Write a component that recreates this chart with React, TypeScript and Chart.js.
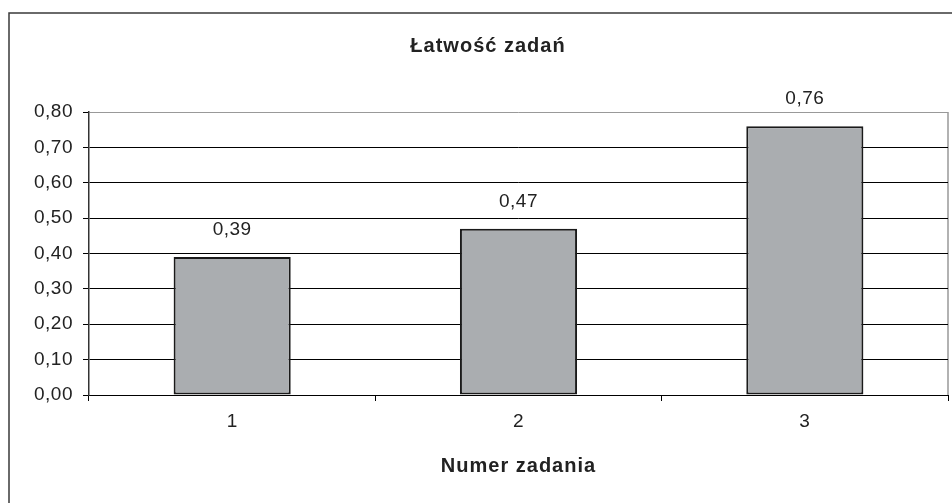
import React, { useEffect, useRef } from "react";
import { Chart, registerables } from "chart.js";

Chart.register(...registerables);

const chartTitle = "Łatwość zadań";
const xAxisTitle = "Numer zadania";
const categories = ["1", "2", "3"];
const easiness = [0.39, 0.47, 0.76];
const yMin = 0;
const yMax = 0.8;
const yStep = 0.1;

const fmt = (v: number) => v.toFixed(2).replace(".", ",");
const FONT = "'Liberation Sans', Arial, sans-serif";

const decorPlugin = {
  id: "decor",
  beforeDraw(chart: any) {
    const ctx = chart.ctx;
    ctx.letterSpacing = "0.5px";
    const { top, right, bottom } = chart.chartArea;
    ctx.save();
    ctx.fillStyle = "#ffffff";
    ctx.fillRect(0, 0, chart.width, chart.height);
    ctx.strokeStyle = "#999999";
    ctx.lineWidth = 1.5;
    ctx.beginPath();
    ctx.moveTo(right, top);
    ctx.lineTo(right, bottom);
    ctx.stroke();
    ctx.restore();
  },
  afterDatasetsDraw(chart: any) {
    const ctx = chart.ctx;
    const meta = chart.getDatasetMeta(0);
    ctx.save();
    ctx.letterSpacing = "0.5px";
    ctx.font = `19px ${FONT}`;
    ctx.fillStyle = "#222";
    ctx.textAlign = "center";
    ctx.textBaseline = "middle";
    meta.data.forEach((bar: any, i: number) => {
      ctx.fillText(fmt(easiness[i]), bar.x, bar.y - 27);
    });
    ctx.restore();
  },
  afterDraw(chart: any) {
    const ctx = chart.ctx;
    const { left, right } = chart.chartArea;
    ctx.save();
    ctx.strokeStyle = "#3a3a3a";
    ctx.lineWidth = 1.5;
    ctx.beginPath();
    ctx.moveTo(9, chart.height);
    ctx.lineTo(9, 13);
    ctx.lineTo(chart.width, 13);
    ctx.stroke();
    ctx.letterSpacing = "1px";
    ctx.font = `bold 20px ${FONT}`;
    ctx.fillStyle = "#222";
    ctx.textAlign = "center";
    ctx.textBaseline = "middle";
    ctx.fillText(chartTitle, 488, 46);
    ctx.fillText(xAxisTitle, (left + right) / 2, 466);
    ctx.restore();
  },
};

export default function App() {
  const ref = useRef<HTMLCanvasElement | null>(null);
  useEffect(() => {
    if (!ref.current) return;
    const chart = new Chart(ref.current, {
      type: "bar",
      data: {
        labels: categories,
        datasets: [
          {
            data: easiness,
            backgroundColor: "#aaadb0",
            borderColor: "#1a1a1a",
            borderWidth: 2,
            borderSkipped: false,
            categoryPercentage: 1,
            barPercentage: 0.409,
          },
        ],
      },
      options: {
        animation: false,
        responsive: false,
        events: [],
        layout: { padding: { top: 112, right: 4, left: 0, bottom: 0 } },
        plugins: {
          legend: { display: false },
          title: { display: false },
          tooltip: { enabled: false },
        },
        scales: {
          x: {
            offset: true,
            grid: {
              display: true,
              drawOnChartArea: false,
              drawTicks: true,
              tickLength: 6,
              color: "#000",
              tickColor: "#000",
              offset: true,
            },
            border: { display: true, color: "#000", width: 1 },
            ticks: {
              color: "#222",
              font: { family: FONT, size: 19 },
              padding: 9,
            },
            afterFit: (s: any) => {
              s.height = 108;
            },
          },
          y: {
            min: yMin,
            max: yMax,
            ticks: {
              stepSize: yStep,
              color: "#222",
              font: { family: FONT, size: 19 },
              padding: 10,
              callback: (v: any) => fmt(Number(v)),
            },
            grid: {
              drawTicks: true,
              tickLength: 6,
              color: (c: any) =>
                c.tick && Math.abs(c.tick.value - yMax) < 1e-6 ? "#999999" : "#000000",
              tickColor: "#000",
              lineWidth: 1,
            },
            border: { display: true, color: "#333", width: 1.5 },
            afterFit: (s: any) => {
              s.width = 89;
            },
          },
        },
      },
      plugins: [decorPlugin],
    });
    return () => chart.destroy();
  }, []);
  return (
    <div style={{ position: "fixed", left: 0, top: 0, width: 952, height: 503, background: "#fff" }}>
      <canvas ref={ref} width={952} height={503} />
    </div>
  );
}
